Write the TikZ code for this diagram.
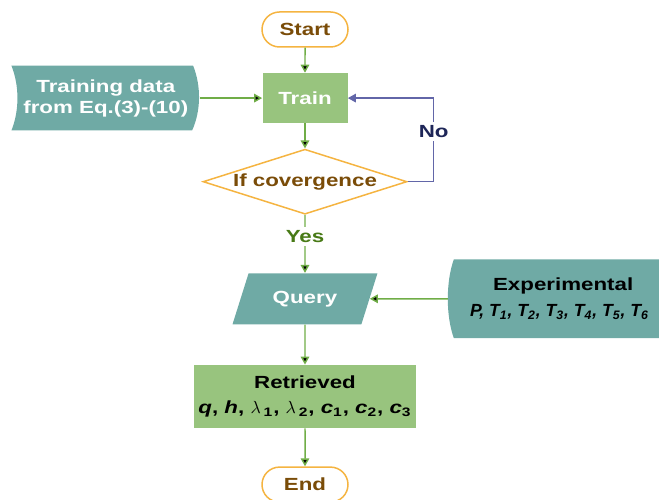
\documentclass[tikz,border=0pt]{standalone}
\usepackage{fontspec}
\setmainfont{Liberation Sans}[FakeStretch=1.27]
\newfontfamily\plainsans{Liberation Sans}
\usetikzlibrary{
  arrows.meta,
  backgrounds,
  positioning,
  shapes.geometric,
  shapes.misc
}
\definecolor{lineg}{RGB}{112,173,71}
\definecolor{boxg}{RGB}{152,196,126}
\definecolor{dteal}{RGB}{111,170,165}
\definecolor{gold}{RGB}{245,180,65}
\definecolor{brownt}{RGB}{122,76,8}
\definecolor{noblue}{RGB}{98,102,168}
\definecolor{nonavy}{RGB}{30,38,88}
\definecolor{yesg}{RGB}{72,122,22}
\tikzset{
  >={Triangle[length=1.6mm,width=1.7mm]},
  every node/.style = {font=\fontsize{10}{12}\selectfont\bfseries, inner sep=0pt, align=center},
  flow/.style = {->, draw=lineg, line width=0.85pt},
  loopback/.style = {->, draw=noblue, line width=0.85pt},
  term/.style = {rounded rectangle, draw=gold, fill=white, line width=0.85pt,
    text=brownt, minimum width=1.72cm, minimum height=0.7cm},
  proc/.style = {rectangle, fill=boxg},
  store/.style = {rectangle},
  cond/.style = {diamond, aspect=3.14, draw=gold, fill=white, line width=0.85pt, text=brownt,
    minimum width=4.08cm, minimum height=1.3cm},
  io/.style = {trapezium, trapezium left angle=60, trapezium right angle=120,
    trapezium stretches=true, fill=dteal, text=white,
    minimum width=2.9cm, minimum height=1.02cm},
  lbl/.style = {fill=white, inner sep=2pt},
}

\begin{document}
\begin{tikzpicture}
  \useasboundingbox (0,0) rectangle (13.18,-10);
  \clip (0,0) rectangle (13.18,-10);

  \node[term] (start) at (6.1,-0.59) {Start};
  \node[proc, text=white, minimum width=1.7cm, minimum height=1cm, below=0.5cm of start] (train) {Train};
  \node[cond, below=0.5cm of train] (conv) {If covergence};
  \node[io, below=1.16cm of conv] (query) {Query};
  \node[proc, minimum width=4.44cm, minimum height=1.26cm, below=0.8cm of query,
    font=\fontsize{10}{14.5}\selectfont\bfseries] (ret)
    {Retrieved\\\textit{q}, \textit{h}, $\lambda$\,\textsubscript{1}, $\lambda$\,\textsubscript{2},
     \textit{c}\textsubscript{1}, \textit{c}\textsubscript{2}, \textit{c}\textsubscript{3}};
  \node[term, below=0.76cm of ret] (stop) {End};
  \node[store, text=white, minimum width=3.76cm, minimum height=1.28cm, left=1.24cm of train] (data)
    {Training data\\from Eq.(3)-(10)};
  \node[store, minimum width=4.6cm, minimum height=1.56cm, right=1.56cm of query,
    font=\fontsize{10}{15}\selectfont\bfseries] (exp)
    {Experimental\\{\plainsans\bfseries\itshape P, T\textsubscript{1}, T\textsubscript{2},
     T\textsubscript{3}, T\textsubscript{4}, T\textsubscript{5}, T\textsubscript{6}}\hspace*{0.15cm}};

  % data shapes
  \begin{scope}[on background layer]
    \fill[dteal] (data.north west) -- ([xshift=-0.14cm]data.north east)
      .. controls ([xshift=0.02cm,yshift=-0.4cm]data.north east)
      and ([xshift=0.02cm,yshift=0.4cm]data.south east) .. ([xshift=-0.16cm]data.south east)
      -- (data.south west)
      .. controls ([xshift=0.16cm,yshift=0.4cm]data.south west)
      and ([xshift=0.16cm,yshift=-0.4cm]data.north west) .. cycle;
    \fill[dteal] ([xshift=0.12cm]exp.north west) -- (exp.north east)
      .. controls ([xshift=-0.4cm,yshift=-0.45cm]exp.north east)
      and ([xshift=-0.4cm,yshift=0.45cm]exp.south east) .. (exp.south east)
      -- ([xshift=0.12cm]exp.south west)
      .. controls ([xshift=-0.04cm,yshift=0.45cm]exp.south west)
      and ([xshift=-0.04cm,yshift=-0.45cm]exp.north west) .. cycle;
  \end{scope}

  \draw[flow]
      (start) edge (train)
      (data) edge (train)
      (train) edge (conv)
      (conv) edge node[lbl, pos=0.37, text=yesg]{Yes} (query)
      (exp) edge (query)
      (query) edge (ret)
      (ret) edge (stop);
  \draw[loopback] (conv.east) -- ++(0.52,0) |- node[lbl, pos=0.3, text=nonavy]{No} (train.east);
\end{tikzpicture}
\end{document}
